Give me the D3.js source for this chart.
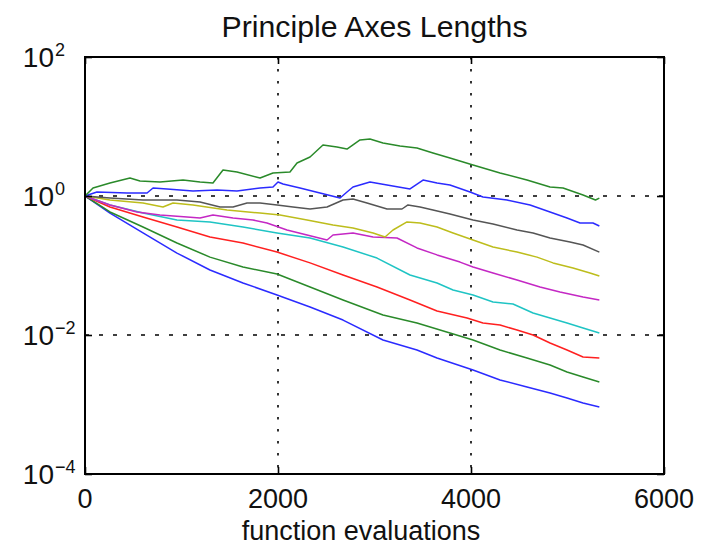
<!DOCTYPE html>
<html>
<head>
<meta charset="utf-8">
<script src="https://cdn.jsdelivr.net/npm/d3@7"></script>
<style>
  html, body { margin: 0; padding: 0; background: #fff; }
  svg { display: block; }
  text { font-family: "Liberation Sans", Arial, Helvetica, sans-serif; fill: #111; }
</style>
</head>
<body>
<svg id="chart" width="703" height="546"></svg>
<script>
// ---------------- DATA ----------------
const titleText = "Principle Axes Lengths";
const xLabelText = "function evaluations";
const xTicks = [0, 2000, 4000, 6000];
const xTickLabels = ["0", "2000", "4000", "6000"];
const yTicks = [1e2, 1e0, 1e-2, 1e-4];
const yTickExponents = ["2", "0", "\u22122", "\u22124"];
const xGrid = [2000, 4000];
const yGrid = [1e0, 1e-2];

// series 1 (blue, smallest)
const evals1 = [0,259,601,953,1295,1637,1990,2332,2674,3088,3440,3648,4021,4301,4580,4819,4995,5161,5330];
const len1 = [1,0.569,0.294,0.151,0.0861,0.0560,0.0377,0.0253,0.0164,0.00847,0.00608,0.00467,0.00313,0.00225,0.00179,0.00146,0.00124,0.00105,0.00092];
// series 2 (green)
const evals2 = [0,259,601,953,1295,1637,1990,2332,2674,3088,3440,3782,4021,4301,4580,4819,4995,5161,5330];
const len2 = [1,0.589,0.358,0.211,0.132,0.0951,0.0755,0.0491,0.0319,0.0194,0.0149,0.0107,0.00847,0.00608,0.00467,0.00370,0.00294,0.00249,0.00211];
// series 3 (red)
const evals3 = [0,259,601,953,1295,1637,1990,2332,2674,3026,3368,3648,3959,4124,4301,4477,4643,4819,4995,5161,5330];
const len3 = [1,0.695,0.499,0.358,0.257,0.211,0.156,0.109,0.0730,0.0491,0.0319,0.0221,0.0176,0.0149,0.0139,0.0118,0.0100,0.00767,0.00608,0.00482,0.00467];
// series 4 (cyan)
const evals4 = [0,259,601,953,1295,1637,1990,2332,2674,3026,3368,3648,3814,4021,4228,4435,4643,4819,4995,5161,5330];
const len4 = [1,0.743,0.569,0.452,0.423,0.358,0.294,0.249,0.185,0.128,0.0730,0.0560,0.0444,0.0377,0.0299,0.0279,0.0207,0.0176,0.0149,0.0126,0.0107];
// series 5 (magenta)
const evals5 = [0,259,539,777,1057,1192,1326,1534,1741,1886,2093,2301,2508,2570,2777,2985,3233,3440,3648,3886,4021,4228,4477,4715,4922,5161,5330];
const len5 = [1,0.743,0.589,0.533,0.499,0.482,0.533,0.482,0.452,0.409,0.324,0.275,0.233,0.275,0.294,0.257,0.249,0.179,0.142,0.112,0.0951,0.0780,0.0618,0.0491,0.0416,0.0352,0.0319];
// series 6 (yellow)
const evals6 = [0,259,601,808,912,1119,1472,1814,2021,2301,2570,2777,2985,3109,3192,3337,3472,3648,3814,4021,4228,4477,4684,4850,5057,5233,5330];
const len6 = [1,0.875,0.792,0.695,0.792,0.743,0.629,0.569,0.533,0.452,0.383,0.347,0.294,0.257,0.324,0.423,0.409,0.358,0.294,0.233,0.185,0.156,0.132,0.109,0.0920,0.0780,0.0706];
// series 7 (black)
const evals7 = [0,259,601,953,1192,1399,1534,1679,1814,1990,2155,2332,2508,2674,2777,2922,3130,3285,3347,3472,3606,3782,4021,4228,4477,4643,4819,5026,5161,5330];
const len7 = [1,0.935,0.875,0.875,0.820,0.695,0.695,0.792,0.792,0.743,0.695,0.650,0.695,0.875,0.906,0.792,0.650,0.650,0.743,0.695,0.629,0.551,0.452,0.395,0.324,0.294,0.249,0.218,0.197,0.156];
// series 8 (blue, second largest)
const evals8 = [0,124,435,643,705,850,1119,1368,1575,1814,1948,2000,2052,2228,2435,2643,2715,2777,2953,3130,3368,3503,3648,3782,3990,4124,4373,4612,4819,4995,5130,5264,5330];
const len8 = [1,1.143,1.104,1.104,1.303,1.262,1.180,1.219,1.180,1.303,1.346,1.589,1.489,1.303,1.104,0.935,1.143,1.346,1.589,1.439,1.262,1.698,1.538,1.439,1.143,0.968,0.875,0.743,0.589,0.482,0.409,0.409,0.370];
// series 9 (green, largest)
const evals9 = [0,83,259,466,570,777,1016,1192,1326,1430,1575,1814,1948,2124,2197,2332,2466,2611,2715,2850,2953,3088,3264,3440,3606,3782,4021,4301,4580,4819,4954,5161,5290,5330];
const len9 = [1,1.303,1.538,1.816,1.644,1.589,1.698,1.589,1.538,2.366,2.213,1.816,2.143,2.213,2.985,3.639,5.420,5.070,4.742,6.397,6.607,5.794,5.236,4.909,4.159,3.524,2.793,2.143,1.698,1.346,1.303,1.033,0.875,0.930];

const seriesColors = ["#2b2bff", "#2a8a2a", "#ff2020", "#1fc4c4", "#c428c4", "#bdbd1c", "#555555", "#2b2bff", "#2a8a2a"];

// ---------------- BUILD ----------------
const series = [
  [evals1, len1], [evals2, len2], [evals3, len3], [evals4, len4], [evals5, len5],
  [evals6, len6], [evals7, len7], [evals8, len8], [evals9, len9]
].map(([e, v], i) => ({ color: seriesColors[i], pts: e.map((x, j) => ({ x, y: v[j] })) }));

const svg = d3.select("#chart");
const L = 85, R = 664, T = 57, B = 474;

const x = d3.scaleLinear().domain([0, 6000]).range([L, R]);
const y = d3.scaleLog().domain([1e-4, 1e2]).range([B, T]);

// grid lines
const grid = svg.append("g");
grid.selectAll(".vg").data(xGrid).join("line")
  .attr("x1", d => x(d)).attr("x2", d => x(d)).attr("y1", T).attr("y2", B)
  .attr("stroke", "#000").attr("stroke-width", 1.6).attr("stroke-dasharray", "2.5,9.5");
grid.selectAll(".hg").data(yGrid).join("line")
  .attr("x1", L).attr("x2", R).attr("y1", d => y(d)).attr("y2", d => y(d))
  .attr("stroke", "#000").attr("stroke-width", 1.6).attr("stroke-dasharray", "4,10");

// series lines
const line = d3.line().x(d => x(d.x)).y(d => y(d.y));
svg.append("g").selectAll("path").data(series).join("path")
  .attr("d", d => line(d.pts))
  .attr("fill", "none")
  .attr("stroke", d => d.color)
  .attr("stroke-width", 1.5)
  .attr("stroke-linejoin", "round");

// axes (box with inward ticks on all sides)
const tickLen = 7;
const axB = d3.axisBottom(x).tickValues(xTicks).tickSize(-tickLen).tickFormat(() => "");
const axT = d3.axisTop(x).tickValues(xTicks).tickSize(-tickLen).tickFormat(() => "");
const axLft = d3.axisLeft(y).tickValues(yTicks).tickSize(-tickLen).tickFormat(() => "");
const axRgt = d3.axisRight(y).tickValues(yTicks).tickSize(-tickLen).tickFormat(() => "");
function styleAxis(g) {
  g.select(".domain").remove();
  g.selectAll(".tick line").attr("stroke", "#000").attr("stroke-width", 1.6);
}
svg.append("g").attr("transform", `translate(0,${B})`).call(axB).call(styleAxis);
svg.append("g").attr("transform", `translate(0,${T})`).call(axT).call(styleAxis);
svg.append("g").attr("transform", `translate(${L},0)`).call(axLft).call(styleAxis);
svg.append("g").attr("transform", `translate(${R},0)`).call(axRgt).call(styleAxis);

svg.append("rect").attr("x", L).attr("y", T).attr("width", R - L).attr("height", B - T)
  .attr("fill", "none").attr("stroke", "#000").attr("stroke-width", 2);

// x tick labels
svg.append("g").selectAll("text").data(xTicks).join("text")
  .attr("x", d => x(d)).attr("y", B + 34)
  .attr("text-anchor", "middle").attr("font-size", 27)
  .text((d, i) => xTickLabels[i]);

// y tick labels 10^n
const yl = svg.append("g").selectAll("g").data(yTicks).join("g")
  .attr("transform", d => `translate(0,${y(d)})`);
yl.append("text").attr("x", 54).attr("y", 10)
  .attr("text-anchor", "end").attr("font-size", 28).text("10");
yl.append("text").attr("x", 55).attr("y", -1)
  .attr("text-anchor", "start").attr("font-size", 18).text((d, i) => yTickExponents[i]);

// title and x label
svg.append("text").attr("x", (L + R) / 2).attr("y", 37)
  .attr("text-anchor", "middle").attr("font-size", 30)
  .attr("textLength", 306).attr("lengthAdjust", "spacingAndGlyphs")
  .text(titleText);
svg.append("text").attr("x", 361).attr("y", 540)
  .attr("text-anchor", "middle").attr("font-size", 27)
  .text(xLabelText);
</script>
</body>
</html>
